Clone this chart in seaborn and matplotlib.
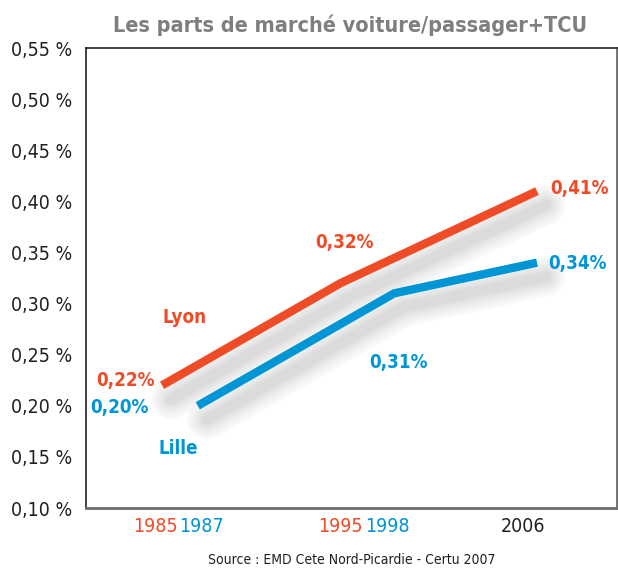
import pandas as pd
import matplotlib
matplotlib.use("Agg")
import matplotlib.pyplot as plt
import matplotlib.transforms as mtransforms
from matplotlib import font_manager
import seaborn as sns

# data
years_lyon = [1985, 1995, 2006]
share_lyon = [0.22, 0.32, 0.41]
years_lille = [1987, 1998, 2006]
share_lille = [0.20, 0.31, 0.34]
year_ticks = [1985, 1987, 1995, 1998, 2006]
y_ticks = [0.10, 0.15, 0.20, 0.25, 0.30, 0.35, 0.40, 0.45, 0.50, 0.55]

red = "#EF4B26"
blue = "#0095D5"
dark = "#231F20"

sns.set_style("white")
# look for a condensed face, the original uses a narrow grotesque
cond = [(f.name, f.stretch) for f in font_manager.fontManager.ttflist
        if str(f.stretch) in ("condensed", "semi-condensed", "extra-condensed", "75", "62.5", "87.5")]
fam = "Liberation Sans"
stretch = "normal"
for name, st in cond:
    if name in ("Roboto Condensed", "Noto Sans", "Noto Sans Display", "Open Sans", "Roboto", "Liberation Sans Narrow", "DejaVu Sans"):
        fam, stretch = name, st
        break
plt.rcParams["font.family"] = [fam, "DejaVu Sans"]
plt.rcParams["font.stretch"] = stretch

df = pd.DataFrame({
    "year": years_lyon + years_lille,
    "share": share_lyon + share_lille,
    "city": ["Lyon"] * 3 + ["Lille"] * 3,
})

fig = plt.figure(figsize=(6.18, 5.70), dpi=100)
ax = fig.add_axes([86 / 618, 1 - 508 / 570, 531 / 618, 460 / 570])

# soft drop shadow under each line
for xs, ys in [(years_lyon, share_lyon), (years_lille, share_lille)]:
    for lw in [28, 23, 18, 14, 10, 7]:
        tr = mtransforms.offset_copy(ax.transData, fig=fig, x=9, y=-14, units="dots")
        ax.plot(xs, ys, color="#707070", lw=lw, alpha=0.045,
                solid_capstyle="round", transform=tr, zorder=1)

sns.lineplot(data=df, x="year", y="share", hue="city",
             palette={"Lyon": red, "Lille": blue}, lw=6,
             legend=False, ax=ax, zorder=3)
for l in ax.get_lines()[-2:]:
    l.set_solid_capstyle("butt")
    l.set_solid_joinstyle("miter")

ax.set_xlim(1980.74, 2010.48)
ax.set_ylim(0.10, 0.55)
ax.set_yticks(y_ticks)
ax.set_yticklabels([f"{v:.2f} %".replace(".", ",") for v in y_ticks],
                   fontsize=14, color=dark)
ax.tick_params(length=0, axis="y", pad=10)
ax.set_xticks([])
ax.set_xlabel("")
ax.set_ylabel("")

# year labels, nudged apart a little like in the original
shifts = [-7, 4, 0, -7, -14]
for yr, c, dx in zip(year_ticks, [red, blue, red, blue, dark], shifts):
    ax.annotate(str(yr), (yr, 0), xycoords=("data", "axes fraction"),
                xytext=(dx, -19), textcoords="offset pixels",
                ha="center", va="center", fontsize=14, color=c,
                annotation_clip=False)

for side in ["top", "left"]:
    ax.spines[side].set_color(dark)
    ax.spines[side].set_linewidth(1.2)
for side in ["right", "bottom"]:
    ax.spines[side].set_color("#6D6D6D")
    ax.spines[side].set_linewidth(2)

# value labels
labels = [
    ("0,22%", years_lyon[0], share_lyon[0], (-37, 5), red),
    ("0,32%", years_lyon[1], share_lyon[1], (4, 41), red),
    ("0,41%", years_lyon[2], share_lyon[2], (42, 3), red),
    ("0,20%", years_lille[0], share_lille[0], (-78, -2), blue),
    ("0,31%", years_lille[1], share_lille[1], (4, -69), blue),
    ("0,34%", years_lille[2], share_lille[2], (40, -1), blue),
    ("Lyon", years_lyon[0], share_lyon[0], (23, 68), red),
    ("Lille", years_lille[0], share_lille[0], (-20, -43), blue),
]
for txt, x, y, off, c in labels:
    ax.annotate(txt, (x, y), xytext=off, textcoords="offset pixels",
                ha="center", va="center", fontsize=13.5, fontweight="bold",
                color=c, zorder=5)

fig.text(350 / 618, 1 - 25 / 570, "Les parts de marché voiture/passager+TCU",
         ha="center", va="center", fontsize=15.5, fontweight="bold", color="#7F7F7F")
fig.text(352 / 618, 1 - 560 / 570, "Source : EMD Cete Nord-Picardie - Certu 2007",
         ha="center", va="center", fontsize=10, color=dark)

fig.savefig("out.png", dpi=100)
